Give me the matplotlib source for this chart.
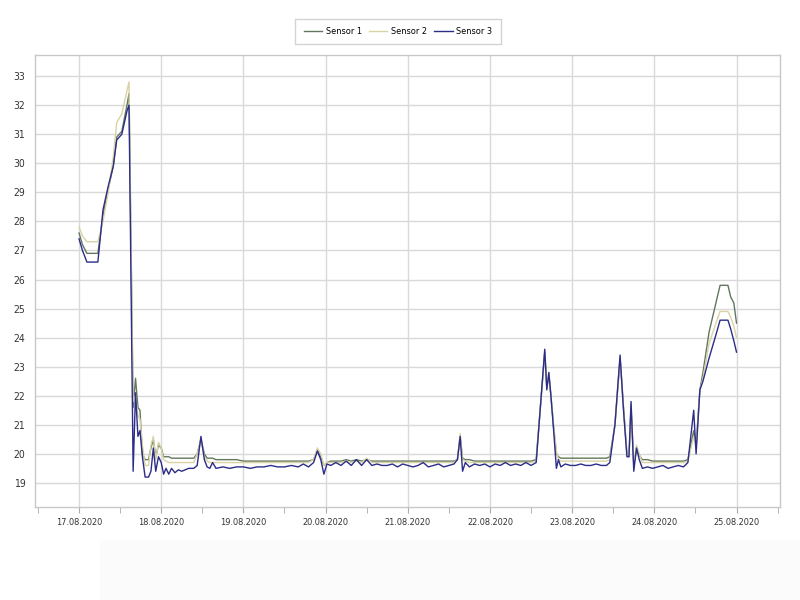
import matplotlib
matplotlib.use("Agg")
import matplotlib.pyplot as plt
from matplotlib.patches import Rectangle

# ----------------------------------------------------------------------------
### Data (hours since 17.08.2020 00:00, temperatures)
# ----------------------------------------------------------------------------
hours = [0, 1.0, 2.3, 5.5, 7.0, 8.5, 10.0, 11.0, 12.5, 14.0, 14.6, 15.8, 16.5,
         17.2, 17.8, 18.5, 19.3, 20.3, 21.0, 21.7, 22.4, 23.2, 24.0, 24.7,
         25.4, 26.2, 27.0, 28.0, 29.0, 30.0, 31.0, 32.0, 33.5, 34.5, 35.6,
         36.6, 37.4, 38.2, 39.0, 40.0, 42.0, 44.0, 46.0, 48.0, 50.0, 52.0,
         54.0, 56.0, 58.0, 60.0, 62.0, 64.0, 65.5, 67.0, 68.5, 69.6, 70.6,
         71.5, 72.4, 73.5, 75.0, 76.5, 78.0, 79.5, 81.0, 82.5, 84.0, 85.5,
         87.0, 88.5, 90.0, 91.5, 93.0, 94.5, 96.0, 97.5, 99.0, 100.5, 102.0,
         103.5, 105.0, 106.5, 108.0, 109.5, 110.5, 111.3, 112.0, 112.8,
         114.0, 115.5, 117.0, 118.5, 120.0, 121.5, 123.0, 124.5, 126.0,
         127.5, 129.0, 130.5, 132.0, 133.5, 136.0, 136.6, 137.2, 137.8,
         138.6, 139.4, 140.0, 140.7, 142.0, 143.5, 145.0, 146.5, 148.0,
         149.5, 151.0, 152.5, 154.0, 155.0, 156.5, 158.0, 159.0, 160.0,
         160.6, 161.2, 162.0, 162.8, 163.6, 164.5, 166.0, 167.5, 169.0,
         170.5, 172.0, 173.5, 175.0, 176.5, 177.8, 179.5, 180.2, 181.3,
         182.2, 184.0, 186.0, 187.2, 189.5, 190.3, 191.2, 192.0]

sensor1 = [27.6, 27.2, 26.9, 26.9, 28.2, 29.1, 29.9, 30.9, 31.1, 32.0, 32.4,
           21.6, 22.6, 21.6, 21.5, 20.0, 19.8, 19.8, 20.2, 20.5, 19.9, 20.3,
           20.2, 19.9, 19.9, 19.9, 19.85, 19.85, 19.85, 19.85, 19.85, 19.85,
           19.85, 20.0, 20.5, 20.0, 19.85, 19.85, 19.85, 19.8, 19.8, 19.8,
           19.8, 19.75, 19.75, 19.75, 19.75, 19.75, 19.75, 19.75, 19.75,
           19.75, 19.75, 19.75, 19.8, 20.1, 19.9, 19.6, 19.7, 19.75, 19.75,
           19.75, 19.8, 19.75, 19.8, 19.75, 19.8, 19.75, 19.75, 19.75, 19.75,
           19.75, 19.75, 19.75, 19.75, 19.75, 19.75, 19.75, 19.75, 19.75,
           19.75, 19.75, 19.75, 19.75, 19.8, 20.6, 19.85, 19.8, 19.8, 19.75,
           19.75, 19.75, 19.75, 19.75, 19.75, 19.75, 19.75, 19.75, 19.75,
           19.75, 19.75, 19.8, 23.5, 22.3, 22.7, 22.0, 20.9, 20.0, 19.9,
           19.85, 19.85, 19.85, 19.85, 19.85, 19.85, 19.85, 19.85, 19.85,
           19.85, 19.9, 21.0, 23.3, 21.6, 20.0, 19.9, 21.6, 19.6, 20.2,
           19.95, 19.8, 19.8, 19.75, 19.75, 19.75, 19.75, 19.75, 19.75,
           19.75, 19.8, 20.8, 20.3, 22.2, 22.8, 24.2, 25.2, 25.8, 25.8,
           25.4, 25.2, 24.5]

sensor2 = [27.8, 27.5, 27.3, 27.3, 28.0, 29.0, 30.2, 31.4, 31.7, 32.5, 32.8,
           21.8, 22.0, 21.3, 21.2, 20.3, 19.6, 19.6, 20.3, 20.6, 19.8, 20.4,
           20.2, 19.8, 19.75, 19.7, 19.7, 19.7, 19.7, 19.7, 19.7, 19.7, 19.7,
           20.0, 20.5, 19.9, 19.75, 19.7, 19.7, 19.7, 19.7, 19.7, 19.7, 19.7,
           19.7, 19.7, 19.7, 19.7, 19.7, 19.7, 19.7, 19.7, 19.7, 19.7, 19.8,
           20.2, 20.0, 19.6, 19.7, 19.7, 19.7, 19.7, 19.75, 19.7, 19.75, 19.7,
           19.85, 19.7, 19.7, 19.7, 19.7, 19.7, 19.7, 19.7, 19.7, 19.7, 19.7,
           19.7, 19.7, 19.7, 19.7, 19.7, 19.7, 19.7, 19.8, 20.7, 19.8, 19.75,
           19.7, 19.7, 19.7, 19.7, 19.7, 19.7, 19.7, 19.7, 19.7, 19.7, 19.7,
           19.7, 19.7, 19.75, 23.5, 22.3, 22.8, 22.0, 21.0, 20.1, 19.8, 19.75,
           19.75, 19.75, 19.75, 19.75, 19.75, 19.75, 19.75, 19.75, 19.75, 19.8,
           21.0, 23.3, 21.6, 20.0, 19.9, 21.7, 19.7, 20.3, 20.0, 19.7, 19.7,
           19.7, 19.7, 19.7, 19.7, 19.7, 19.7, 19.7, 19.75, 20.6, 20.2, 22.2,
           22.6, 23.8, 24.5, 24.9, 24.9, 24.7, 24.4, 24.0]

sensor3 = [27.4, 27.0, 26.6, 26.6, 28.4, 29.2, 29.9, 30.8, 31.0, 31.8, 32.0,
           19.4, 22.1, 20.6, 20.8, 19.9, 19.2, 19.2, 19.4, 20.2, 19.4, 19.9,
           19.7, 19.3, 19.5, 19.3, 19.5, 19.35, 19.45, 19.4, 19.45, 19.5, 19.5,
           19.6, 20.6, 19.8, 19.55, 19.5, 19.7, 19.5, 19.55, 19.5, 19.55,
           19.55, 19.5, 19.55, 19.55, 19.6, 19.55, 19.55, 19.6, 19.55, 19.65,
           19.55, 19.7, 20.1, 19.8, 19.3, 19.65, 19.6, 19.7, 19.6, 19.75, 19.6,
           19.8, 19.6, 19.8, 19.6, 19.65, 19.6, 19.6, 19.65, 19.55, 19.65,
           19.6, 19.55, 19.6, 19.7, 19.55, 19.6, 19.65, 19.55, 19.6, 19.65,
           19.8, 20.6, 19.4, 19.7, 19.55, 19.65, 19.6, 19.65, 19.55, 19.65,
           19.6, 19.7, 19.6, 19.65, 19.6, 19.7, 19.6, 19.7, 23.6, 22.2, 22.8,
           22.0, 20.8, 19.5, 19.8, 19.55, 19.65, 19.6, 19.6, 19.65, 19.6, 19.6,
           19.65, 19.6, 19.6, 19.7, 21.0, 23.4, 21.5, 19.9, 19.9, 21.8, 19.4,
           20.2, 19.8, 19.5, 19.55, 19.5, 19.55, 19.6, 19.5, 19.55, 19.6,
           19.55, 19.7, 21.5, 20.0, 22.2, 22.5, 23.3, 24.1, 24.6, 24.6, 24.3,
           23.9, 23.5]

series_names = ["Sensor 1", "Sensor 2", "Sensor 3"]
day_labels = ["17.08.2020", "18.08.2020", "19.08.2020", "20.08.2020",
              "21.08.2020", "22.08.2020", "23.08.2020", "24.08.2020",
              "25.08.2020"]


def main():
    """ Draws the sensor temperature chart """
    font = ["DejaVu Sans"]
    colors = ["#62785e", "#d8d2a4", "#2c2c8a"]
    txt = dict(family=font, stretch="condensed", color="#333333")

    fig = plt.figure(figsize=(8, 6), dpi=100)
    ax = fig.add_axes([0.044, 0.155, 0.931, 0.753])

    for vals, name, col in zip([sensor1, sensor2, sensor3], series_names, colors):
        ax.plot(hours, vals, color=col, linewidth=1.0, label=name)

    # Axes ranges
    ax.set_xlim(-12.8, 204.7)
    ax.set_ylim(18.17, 33.72)

    # x ticks: one per day, minor ticks at noon
    day_ticks = [24 * i for i in range(len(day_labels))]
    ax.set_xticks(day_ticks)
    ax.set_xticklabels(day_labels, fontsize=6.6, **txt)
    ax.set_xticks([-12] + [t + 12 for t in day_ticks], minor=True)
    ax.tick_params(axis="x", which="both", direction="out", length=4,
                   color="#aaaaaa", pad=4)

    # y ticks
    ax.set_yticks(range(19, 34))
    ax.set_yticklabels([str(v) for v in range(19, 34)], fontsize=7.5, **txt)
    ax.tick_params(axis="y", length=0, pad=7)

    # Grid and frame
    ax.grid(True, which="major", color="#d9d9d9", linewidth=1.0)
    ax.set_axisbelow(True)
    for sp in ax.spines.values():
        sp.set_color("#c8c8c8")
        sp.set_linewidth(1.0)

    # Legend on top
    leg = fig.legend(loc="center", bbox_to_anchor=(398 / 800, 1 - 31.5 / 600),
                     ncol=3, frameon=True, fancybox=False, handlelength=2.0,
                     columnspacing=0.8, handletextpad=0.4, borderpad=0.9,
                     prop={"family": font, "size": 6.6, "stretch": "condensed"})
    leg.get_frame().set_edgecolor("#c8c8c8")
    leg.get_frame().set_linewidth(1.0)

    # faint panel below the chart
    fig.patches.append(Rectangle((100 / 800, 0), 700 / 800, 60 / 600,
                                 transform=fig.transFigure, facecolor="#fbfbfb",
                                 edgecolor="none", zorder=-1))

    fig.savefig("out.png", dpi=100)


if __name__ == "__main__":
    main()
